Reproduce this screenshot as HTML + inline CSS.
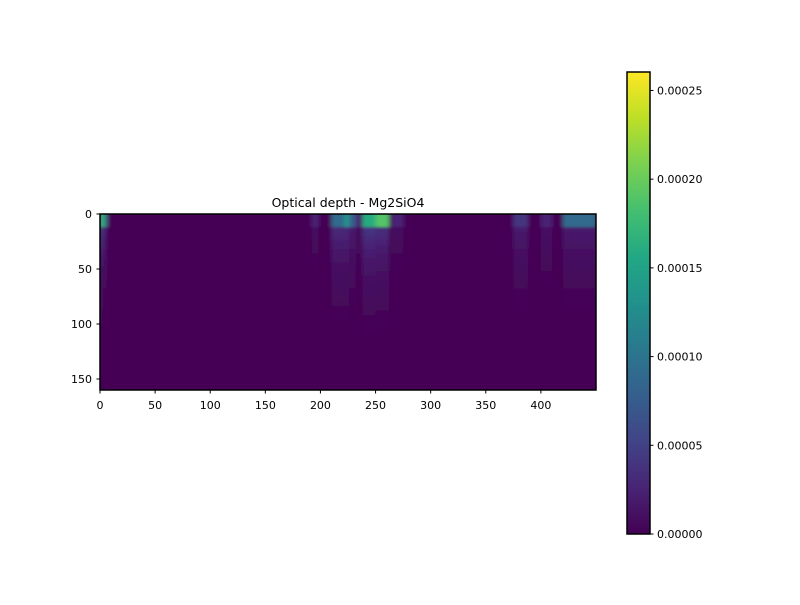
<!DOCTYPE html>
<html><head><meta charset="utf-8"><style>
body{margin:0;background:#fff;font-family:"Liberation Sans","DejaVu Sans",sans-serif}
svg text{font-family:"DejaVu Sans","Liberation Sans",sans-serif;font-size:11px;fill:#000}
</style></head><body>
<svg id="c" width="800" height="600" xmlns="http://www.w3.org/2000/svg">
<defs><linearGradient id="vir" x1="0" y1="1" x2="0" y2="0">
<stop offset="0" stop-color="#440154"/><stop offset="0.1" stop-color="#482475"/><stop offset="0.2" stop-color="#414487"/><stop offset="0.3" stop-color="#355f8d"/><stop offset="0.4" stop-color="#2a788e"/><stop offset="0.5" stop-color="#21918c"/><stop offset="0.6" stop-color="#22a884"/><stop offset="0.7" stop-color="#44bf70"/><stop offset="0.8" stop-color="#7ad151"/><stop offset="0.9" stop-color="#bddf26"/><stop offset="1" stop-color="#fde725"/></linearGradient>
<clipPath id="clip"><rect x="100" y="214" width="496" height="176"/></clipPath>
<filter id="blur" x="-5%" y="-5%" width="110%" height="110%"><feGaussianBlur stdDeviation="2 1.2"/></filter></defs>
<text x="348" y="207" text-anchor="middle" style="font-size:12.5px">Optical depth - Mg2SiO4</text>
<g clip-path="url(#clip)"><rect x="90" y="205" width="520" height="200" fill="#440154"/><g id="cells" filter="url(#blur)"></g></g>
<rect x="100" y="214" width="496" height="176" fill="none" stroke="#000" stroke-width="1.5"/>
<g id="axes"></g>
<rect x="627" y="72" width="23" height="462" fill="url(#vir)" stroke="#000" stroke-width="1.5"/>
<g id="cbaxis"></g>
</svg>
<script>
const segStart=[0,3,192,210,222,226,232,238,250,265,375,400,420];
const segEnd  =[3,6,198,222,226,232,236,250,262,275,388,410,450];
const segTop  =[0.00018,0.00012,0.000025,0.00009,0.00014,0.00008,0.000025,0.00016,0.00019,0.000025,0.00004,0.000025,0.00009];
const segMid  =[0.00005,0.00002,0.000008,0.00003,0.00003,0.00002,0.000008,0.00004,0.000035,0.000008,0.00002,0.000012,0.00002];
const xTicks=[0,50,100,150,200,250,300,350,400];
const yTicks=[0,50,100,150];
const cbTicks=[0,0.00005,0.0001,0.00015,0.0002,0.00025];
const cbLabels=["0.00000","0.00005","0.00010","0.00015","0.00020","0.00025"];
const NS="http://www.w3.org/2000/svg";
const X=v=>100+v*496/450, Y=r=>214+r*176/160, VMAX=0.0002604, CB=v=>534-v/VMAX*462;
const stops=[[68,1,84],[72,36,117],[65,68,135],[53,95,141],[42,120,142],[33,145,140],[34,168,132],[68,191,112],[122,209,81],[189,223,38],[253,231,37]];
function vir(v){let t=Math.max(0,Math.min(1,v/VMAX))*10,i=Math.min(9,Math.floor(t)),f=t-i,a=stops[i],b=stops[i+1];
return `rgb(${a.map((c,k)=>Math.round(c+(b[k]-c)*f)).join(',')})`;}
function el(tag,attrs,parent){const e=document.createElementNS(NS,tag);for(const k in attrs)e.setAttribute(k,attrs[k]);parent.appendChild(e);return e;}
const cells=document.getElementById('cells');
const bg=el('rect',{x:90,y:205,width:520,height:200,fill:vir(0)},cells);


segStart.forEach((s,i)=>{
  const top=el('rect',{x:X(s),y:Y(-8),width:X(segEnd[i])-X(s)+0.3,height:Y(12)-Y(-8),fill:vir(segTop[i])},cells);
  
  
  for(let r=12;r<160;r+=4){
    const v=segMid[i]*Math.exp(-(r-12)/35);
    const c=el('rect',{x:X(s),y:Y(r),width:X(segEnd[i])-X(s)+0.3,height:Y(r+4)-Y(r)+0.3,fill:vir(v)},cells);
    
    
  }
});
const axes=document.getElementById('axes');
xTicks.forEach(t=>{
  const l=el('line',{x1:X(t),x2:X(t),y1:390,y2:393.5,stroke:'#000'},axes);
  
  
  const tx=el('text',{x:X(t),y:409,'text-anchor':'middle'},axes);tx.textContent=t;
  
  
});
yTicks.forEach(t=>{
  const l=el('line',{x1:96.5,x2:100,y1:Y(t),y2:Y(t),stroke:'#000'},axes);
  
  
  const tx=el('text',{x:92,y:Y(t)+4,'text-anchor':'end'},axes);tx.textContent=t;
  
  
});
const cba=document.getElementById('cbaxis');
cbTicks.forEach((t,i)=>{
  const l=el('line',{x1:650,x2:653.5,y1:CB(t),y2:CB(t),stroke:'#000'},cba);
  
  
  const tx=el('text',{x:657,y:CB(t)+4},cba);tx.textContent=cbLabels[i];
  
  
});
</script>
</body></html>
